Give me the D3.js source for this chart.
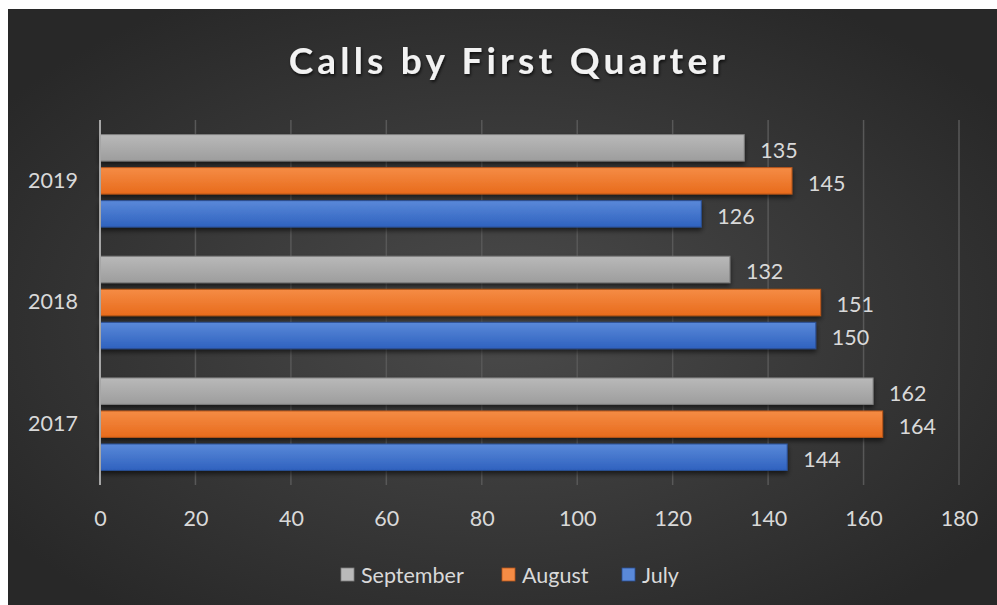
<!DOCTYPE html>
<html>
<head>
<meta charset="utf-8">
<script src="https://cdn.jsdelivr.net/npm/d3@7"></script>
<style>
	body{margin:0;background:#fff;}
	text{font-family:Lato,"Noto Sans",sans-serif;}
</style>
</head>
<body>
<div class="c_chart"></div>
<script>

/*DATA
------------------------------------------------------
------------------------------------------------------
*/

const years = ["2019", "2018", "2017"];
const months = ["September", "August", "July"];
const september = [135, 132, 162];
const august = [145, 151, 164];
const july = [126, 150, 144];
const ticks = [0, 20, 40, 60, 80, 100, 120, 140, 160, 180];
const title = "Calls by First Quarter";

const seriesValues = {September: september, August: august, July: july};
const colors = {
	September: ["#b9b9b9", "#9d9d9d", "#7f7f7f"],
	August: ["#f58c45", "#e86b1c", "#b8561a"],
	July: ["#5a89d9", "#2f62bf", "#2a4f94"]
};

/*SVG, FORMAT
------------------------------------------------------
------------------------------------------------------
*/

let width = 997;
let height = 605;
const margin = {top:120, right:38, bottom:120, left:100};

let svg = d3.select(".c_chart")
	.append("svg")
	.attr("width", width)
	.attr("height", height);

let defs = svg.append("defs");

let bg = defs.append("radialGradient")
	.attr("id", "bg")
	.attr("cx", "50%").attr("cy", "52%").attr("r", "62%");
bg.append("stop").attr("offset", "0%").attr("stop-color", "#4b4b4b");
bg.append("stop").attr("offset", "100%").attr("stop-color", "#282828");

months.forEach(function(m){
	let g = defs.append("linearGradient")
		.attr("id", "grad" + m)
		.attr("x1", 0).attr("y1", 0).attr("x2", 0).attr("y2", 1);
	g.append("stop").attr("offset", "0%").attr("stop-color", colors[m][0]);
	g.append("stop").attr("offset", "100%").attr("stop-color", colors[m][1]);
});

let shadow = defs.append("filter")
	.attr("id", "shadow")
	.attr("x", "-10%").attr("y", "-30%").attr("width", "120%").attr("height", "180%");
shadow.append("feDropShadow")
	.attr("dx", 0).attr("dy", 3).attr("stdDeviation", 2.5)
	.attr("flood-color", "#000").attr("flood-opacity", 0.6);

let tshadow = defs.append("filter")
	.attr("id", "tshadow")
	.attr("x", "-5%").attr("y", "-20%").attr("width", "110%").attr("height", "150%");
tshadow.append("feDropShadow")
	.attr("dx", 1).attr("dy", 2).attr("stdDeviation", 1.5)
	.attr("flood-color", "#000").attr("flood-opacity", 0.7);

/*background panel*/
svg.append("rect")
	.attr("x", 8).attr("y", 9)
	.attr("width", 989).attr("height", 596)
	.attr("fill", "url(#bg)");

/*SCALES
------------------------------------------------------
------------------------------------------------------
*/

let x = d3.scaleLinear()
	.domain([0, 180])
	.range([margin.left, width - margin.right]);

let y = d3.scaleBand()
	.domain(years)
	.range([margin.top, height - margin.bottom])
	.paddingInner(0.24)
	.paddingOuter(0.12);

let y1 = d3.scaleBand()
	.domain(months)
	.range([0, y.bandwidth()])
	.paddingInner(0.2);

/*GRID, AXES
------------------------------------------------------
------------------------------------------------------
*/

svg.append("g")
	.selectAll("line")
	.data(ticks.slice(1))
	.enter()
	.append("line")
	.attr("x1", d => x(d)).attr("x2", d => x(d))
	.attr("y1", margin.top).attr("y2", height - margin.bottom)
	.attr("stroke", "#585858")
	.attr("stroke-width", 1.5);

let xAxis = svg.append("g")
	.attr("transform", "translate(0," + (height - margin.bottom + 22) + ")")
	.call(d3.axisBottom(x).tickValues(ticks).tickSize(0));
xAxis.select(".domain").remove();
xAxis.selectAll("text")
	.attr("fill", "#d9d9d9")
	.attr("font-size", 21.5)
	.attr("dy", "0.32em")
	.attr("y", 12);

let yAxis = svg.append("g")
	.attr("transform", "translate(" + (margin.left - 22) + ",0)")
	.call(d3.axisLeft(y).tickSize(0));
yAxis.select(".domain").remove();
yAxis.selectAll("text")
	.attr("fill", "#d9d9d9")
	.attr("font-size", 21.5)
	.attr("x", 0);

/*BARS
------------------------------------------------------
------------------------------------------------------
*/

let groups = svg.append("g")
	.selectAll("g")
	.data(years)
	.enter()
	.append("g")
	.attr("transform", d => "translate(0," + y(d) + ")");

groups.selectAll("rect")
	.data((d, i) => months.map(m => ({month: m, value: seriesValues[m][i]})))
	.enter()
	.append("rect")
	.attr("x", x(0))
	.attr("y", d => y1(d.month))
	.attr("width", d => x(d.value) - x(0))
	.attr("height", y1.bandwidth())
	.attr("fill", d => "url(#grad" + d.month + ")")
	.attr("stroke", d => colors[d.month][2])
	.attr("stroke-width", 1)
	.attr("filter", "url(#shadow)");

groups.selectAll("text")
	.data((d, i) => months.map(m => ({month: m, value: seriesValues[m][i]})))
	.enter()
	.append("text")
	.attr("x", d => x(d.value) + 16)
	.attr("y", d => y1(d.month) + y1.bandwidth() / 2 + 3)
	.attr("dy", "0.32em")
	.attr("fill", "#d9d9d9")
	.attr("font-size", 21.5)
	.text(d => d.value);

/*axis line at zero*/
svg.append("line")
	.attr("x1", x(0)).attr("x2", x(0))
	.attr("y1", margin.top).attr("y2", height - margin.bottom)
	.attr("stroke", "#a6a6a6")
	.attr("stroke-width", 2);

/*TITLE, LEGEND
------------------------------------------------------
------------------------------------------------------
*/

svg.append("text")
	.attr("x", 509)
	.attr("y", 74)
	.attr("text-anchor", "middle")
	.attr("fill", "#f2f2f2")
	.attr("font-size", 37)
	.attr("font-weight", "bold")
	.attr("letter-spacing", 4.2)
	.attr("filter", "url(#tshadow)")
	.text(title);

const legendX = [341, 502, 622];

let legend = svg.append("g")
	.selectAll("g")
	.data(months)
	.enter()
	.append("g")
	.attr("transform", (d, i) => "translate(" + legendX[i] + ",568)");

legend.append("rect")
	.attr("width", 13).attr("height", 13)
	.attr("fill", d => colors[d][0])
	.attr("stroke", d => colors[d][2])
	.attr("stroke-width", 0.8);

legend.append("text")
	.attr("x", 20)
	.attr("y", 7)
	.attr("dy", "0.36em")
	.attr("fill", "#d9d9d9")
	.attr("font-size", 21.5)
	.text(d => d);

</script>
</body>
</html>
